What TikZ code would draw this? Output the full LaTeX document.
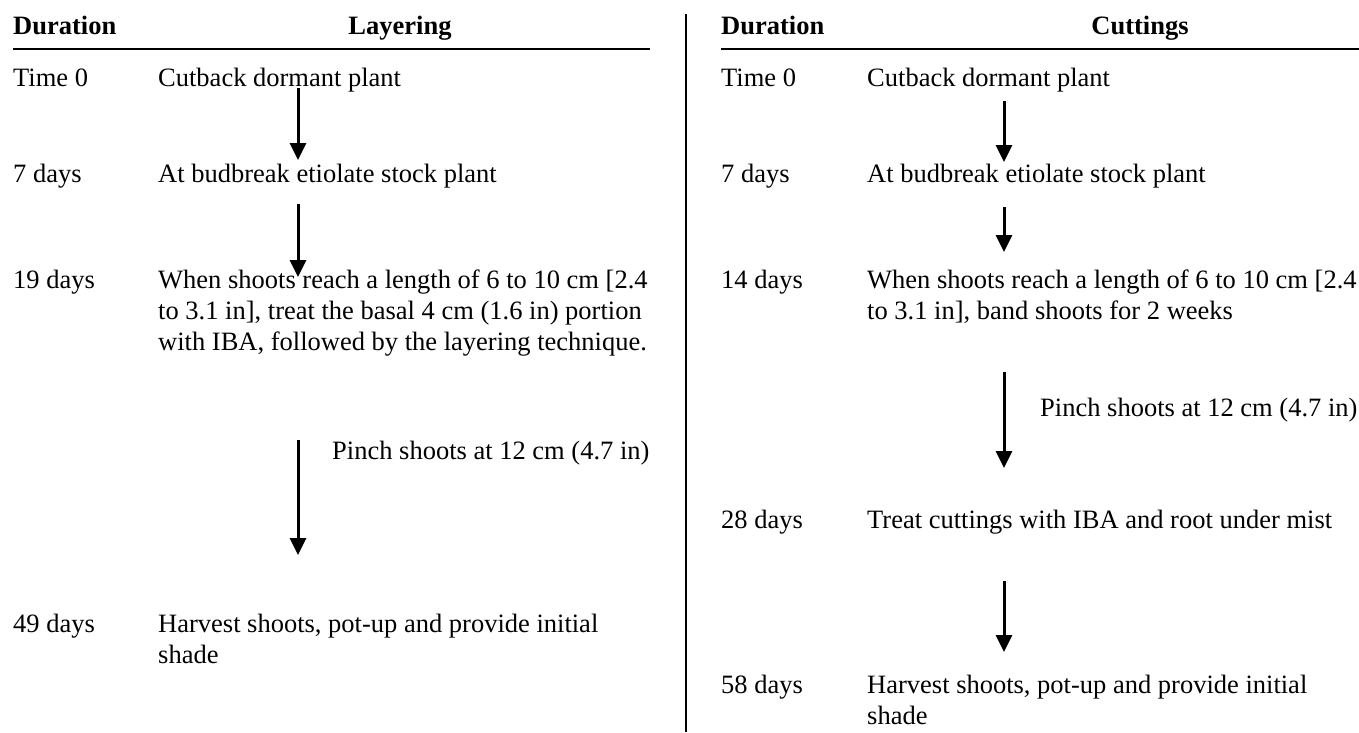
\documentclass[tikz,border=0pt]{standalone}
\usepackage{fontspec}
\setmainfont{Liberation Serif}
\usetikzlibrary{arrows.meta}
\begin{document}
\begin{tikzpicture}[x=1pt,y=-1pt,
  txt/.style={anchor=base west, inner sep=0pt, font=\fontsize{26.5}{31}\selectfont, align=left},
  hdr/.style={anchor=base west, inner sep=0pt, font=\fontsize{26.5}{31}\selectfont\bfseries},
  hdc/.style={anchor=base, inner sep=0pt, font=\fontsize{26.5}{31}\selectfont\bfseries},
  arr/.style={line width=3pt, -{Triangle[width=16pt,length=17pt]}},
  rulel/.style={line width=1.5pt},
  bar/.style={line width=2.4pt}]
\useasboundingbox (0,0) rectangle (1359,732);
\fill[white] (0,0) rectangle (1359,732);
% left
\node[hdr] (hdL) at (13,34) {Duration};
\node[hdc] (hlL) at (400,34) {Layering};
\coordinate (rL1) at (13,49); \coordinate (rL2) at (650,49);
\draw[rulel] (rL1) -- (rL2);
\node[txt] (d0L) at (13,86) {Time 0};
\node[txt] (t0L) at (158,86) {Cutback dormant plant};
\node[txt] (d1L) at (13,182) {7 days};
\node[txt] (t1L) at (158,182) {At budbreak etiolate stock plant};
\node[txt] (d2L) at (13,288) {19 days};
\node[txt] (t2L) at (158,350) {When shoots reach a length of 6 to 10 cm [2.4\\to 3.1 in], treat the basal 4 cm (1.6 in) portion\\with IBA, followed by the layering technique.};
\node[txt] (pL) at (332,459) {Pinch shoots at 12 cm (4.7 in)};
\node[txt] (d3L) at (13,632) {49 days};
\node[txt] (t3L) at (158,663) {Harvest shoots, pot-up and provide initial\\shade};
\coordinate (a1s) at (298,88); \coordinate (a1e) at (298,160);
\coordinate (a2s) at (298,204); \coordinate (a2e) at (298,277);
\coordinate (a3s) at (298,440); \coordinate (a3e) at (298,555);
\draw[arr] (a1s) -- (a1e);
\draw[arr] (a2s) -- (a2e);
\draw[arr] (a3s) -- (a3e);
% divider
\coordinate (v1) at (686,14); \coordinate (v2) at (686,732);
\draw[bar] (v1) -- (v2);
% right
\node[hdr] (hdR) at (721,34) {Duration};
\node[hdc] (hcR) at (1140,34) {Cuttings};
\coordinate (rR1) at (721,49); \coordinate (rR2) at (1359,49);
\draw[rulel] (rR1) -- (rR2);
\node[txt] (d0R) at (721,86) {Time 0};
\node[txt] (t0R) at (867,86) {Cutback dormant plant};
\node[txt] (d1R) at (721,182) {7 days};
\node[txt] (t1R) at (867,182) {At budbreak etiolate stock plant};
\node[txt] (d2R) at (721,288) {14 days};
\node[txt] (t2R) at (867,319) {When shoots reach a length of 6 to 10 cm [2.4\\to 3.1 in], band shoots for 2 weeks};
\node[txt] (pR) at (1040,416) {Pinch shoots at 12 cm (4.7 in)};
\node[txt] (d3R) at (721,528) {28 days};
\node[txt] (t3R) at (867,528) {Treat cuttings with IBA and root under mist};
\node[txt] (d4R) at (721,693) {58 days};
\node[txt] (t4R) at (867,724) {Harvest shoots, pot-up and provide initial\\shade};
\coordinate (b1s) at (1004,101); \coordinate (b1e) at (1004,162);
\coordinate (b2s) at (1004,207); \coordinate (b2e) at (1004,252);
\coordinate (b3s) at (1004,372); \coordinate (b3e) at (1004,468);
\coordinate (b4s) at (1004,581); \coordinate (b4e) at (1004,652);
\draw[arr] (b1s) -- (b1e);
\draw[arr] (b2s) -- (b2e);
\draw[arr] (b3s) -- (b3e);
\draw[arr] (b4s) -- (b4e);
\end{tikzpicture}
\end{document}
